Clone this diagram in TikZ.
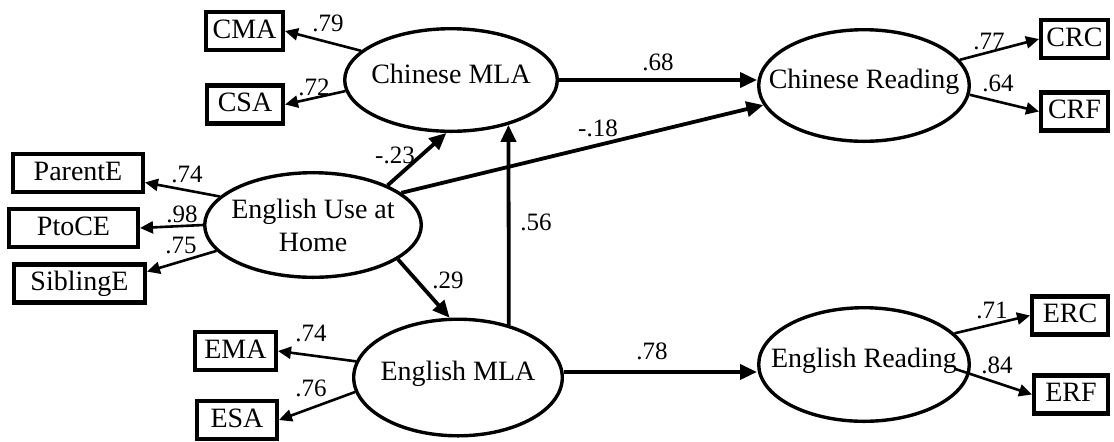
\documentclass[tikz,border=0pt]{standalone}
\usepackage{fontspec}
\setmainfont{Liberation Serif}
\usetikzlibrary{arrows.meta,shapes.geometric}
\tikzset{
	obox/.style={
		draw,
		line width=2.2pt,
		inner sep=2pt,
		minimum height=19pt,
		text height=9.5pt,
		text depth=2.5pt,
		font=\fontsize{14pt}{16.5pt}\selectfont
	},
	lvar/.style={
		ellipse,
		draw,
		line width=1.7pt,
		inner xsep=-20pt,
		inner ysep=-6pt,
		align=center,
		font=\fontsize{14pt}{16.5pt}\selectfont
	},
	onel/.style={text height=9.5pt, text depth=6.3pt},
	larr/.style={-{Triangle[length=6.5pt, width=6pt]}, line width=1.3pt},
	parr/.style={-{Triangle[length=8.5pt, width=7.5pt]}, line width=1.9pt},
	coef/.style={inner sep=0pt, font=\fontsize{12.5pt}{14pt}\selectfont}
}

\begin{document}
\begin{tikzpicture}[x=0.5pt, y=-0.5pt]
		\useasboundingbox (0,0) rectangle (1114,441);
		\node[lvar, onel, minimum width=106.3pt, minimum height=51.3pt] (cmla) at (451,80) {Chinese MLA};
		\node[lvar, onel, minimum width=105.3pt, minimum height=55.8pt] (cread) at (864,85.5) {Chinese Reading};
		\node[lvar, minimum width=108.3pt, minimum height=52.3pt] (euse) at (313,225) {English Use at\\Home};
		\node[lvar, onel, minimum width=104.3pt, minimum height=58.3pt] (emla) at (458,377.5) {English MLA};
		\node[lvar, onel, minimum width=105.3pt, minimum height=56.8pt] (eread) at (864,364.5) {English Reading};
		\node[obox, minimum width=38.3pt] (cma) at (244.5,31) {CMA};
		\node[obox, minimum width=37.8pt] (csa) at (245,104.5) {CSA};
		\node[obox, minimum width=64.8pt] (parente) at (78,173) {ParentE};
		\node[obox, minimum width=64.3pt] (ptoce) at (73.5,228) {PtoCE};
		\node[obox, minimum width=65.3pt] (siblinge) at (79.5,283.5) {SiblingE};
		\node[obox, minimum width=40.3pt] (ema) at (235.5,351) {EMA};
		\node[obox, minimum width=39.8pt] (esa) at (237,420) {ESA};
		\node[obox, minimum width=33.3pt] (crc) at (1074.5,39) {CRC};
		\node[obox, minimum width=33.3pt] (crf) at (1074.5,111.5) {CRF};
		\node[obox, minimum width=37.8pt] (erc) at (1070,315.5) {ERC};
		\node[obox, minimum width=36.8pt] (erf) at (1071,394.5) {ERF};
		\draw[larr] (cmla.162) -- (cma.east);
		\draw[larr] (cmla.186) -- (csa.east);
		\draw[larr] (euse.163) -- (parente.-8);
		\draw[larr] (euse.west) -- (ptoce.east);
		\draw[larr] (euse.195) -- (siblinge.10);
		\draw[larr] (emla.171) -- (ema.east);
		\draw[larr] (emla.188) -- (esa.east);
		\draw[larr] (cread.15) -- (crc.west);
		\draw[larr] (cread.-5) -- (crf.west);
		\draw[larr] (eread.19) -- (erc.west);
		\draw[larr, shorten <=-8pt] (eread.-5) -- (erf.west);
		\draw[parr] (cmla.east) -- (cmla.east -| cread.west);
		\draw[parr] (euse.20) -- (cread.191);
		\draw[parr] (euse.28) -- (cmla.265);
		\draw[parr] (euse.-22) -- (emla.98);
		\draw[parr] (emla.46) -- (cmla.-38);
		\draw[parr] (emla.3) -- (emla.3 -| eread.west);
		\node[coef] (c79) at (328,23) {.79};
		\node[coef] (c72) at (314,87) {.72};
		\node[coef] (c74a) at (187,174) {.74};
		\node[coef] (c98) at (182,214) {.98};
		\node[coef] (c75) at (181,245) {.75};
		\node[coef] (c23) at (395,155) {-.23};
		\node[coef] (c18) at (598,128) {-.18};
		\node[coef] (c68) at (658,62) {.68};
		\node[coef] (c56) at (536,222) {.56};
		\node[coef] (c29) at (448,280) {.29};
		\node[coef] (c74b) at (311,333) {.74};
		\node[coef] (c76) at (311,388) {.76};
		\node[coef] (c78) at (652,351) {.78};
		\node[coef] (c77) at (989,41) {.77};
		\node[coef] (c64) at (998,83) {.64};
		\node[coef] (c71) at (992,310) {.71};
		\node[coef] (c84) at (997,365) {.84};
	\end{tikzpicture}
\end{document}
